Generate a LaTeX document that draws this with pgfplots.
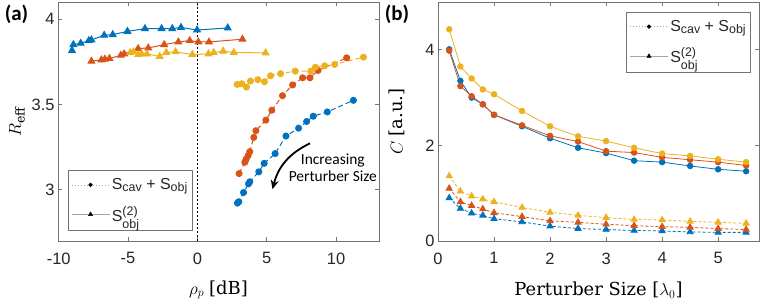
\documentclass[border=0pt]{standalone}
\usepackage{pgfplots}
\pgfplotsset{compat=1.18}
\usetikzlibrary{arrows.meta}
\usepackage{amsmath}
\usepackage{fontspec}
\setmainfont{Liberation Sans}
\newfontfamily\carl{Carlito}
\newfontfamily\dser{DejaVu Serif}
\definecolor{mblue}{rgb}{0,0.447,0.741}
\definecolor{morange}{rgb}{0.85,0.325,0.098}
\definecolor{myellow}{rgb}{0.929,0.694,0.125}
\definecolor{axgray}{gray}{0.45}
\definecolor{txtgray}{gray}{0.15}
\newcommand\subt[2]{\raisebox{#1}{\fontsize{12.5}{13}\selectfont #2}}
\newcommand\legA{S\subt{-1.7bp}{cav} + S\subt{-1.7bp}{obj}}
\newcommand\legB{S\rlap{\subt{6bp}{(2)}}\subt{-7bp}{obj}}
\pgfplotsset{
  common/.style={
    scale only axis, width=321bp, height=239bp, anchor=south west,
    axis line style={axgray, line width=0.8bp},
    tick style={axgray, line width=0.8bp},
    major tick length=4bp, tick align=inside,
    ticklabel style={font=\fontsize{16.5}{18}\selectfont, text=txtgray},
    /pgf/number format/assume math mode=true,
    xticklabel style={yshift=-8bp},
    label style={font=\fontsize{18}{22}\selectfont, text=black},
    xlabel style={at={(axis description cs:0.5,-0.205)}, anchor=center},
    ylabel style={at={(axis description cs:-0.128,0.5)}, anchor=center},
    legend cell align=left,
    legend image code/.code={\draw[mark repeat=2,mark phase=2,#1] plot coordinates {(0bp,0bp) (19bp,0bp) (38bp,0bp)};},
    legend style={draw=axgray, line width=0.6bp, fill=white, font=\fontsize{16}{18}\selectfont, text=txtgray, row sep=11bp, inner xsep=3bp, inner ysep=6bp},
  },
  circA/.style={#1, line width=1bp, dash pattern=on 5bp off 3bp, mark=*, mark size=3bp, mark options={solid, fill=#1, draw=#1}},
  triA/.style={#1, line width=1bp, mark=triangle*, mark size=3.8bp, mark options={solid, fill=#1, draw=#1}},
  circB/.style={#1, line width=0.8bp, mark=*, mark size=2.8bp, mark options={solid, fill=#1, draw=#1}},
  triB/.style={#1, line width=0.8bp, dash pattern=on 3bp off 2bp, mark=triangle*, mark size=3.6bp, mark options={solid, fill=#1, draw=#1}},
}
\begin{document}
\begin{tikzpicture}[x=1bp,y=1bp]
\useasboundingbox (0,0) rectangle (762,304);
\begin{axis}[common, at={(58bp,63bp)},
  xmin=-10.05, xmax=13.1, ymin=2.7, ymax=4.1,
  xtick={-10,-5,0,5,10}, ytick={3,3.5,4},
  xlabel={$\rho_p$ {\dser [dB]}}, ylabel={$R_{\text{\dser eff}}$},
  legend style={at={(rel axis cs:0.031,0.042)}, anchor=south west}]
\addplot[black, line width=0.5bp, dash pattern=on 2bp off 2bp, forget plot] coordinates {(0,2.7) (0,4.1)};
% triangles
\addplot[triA=mblue, forget plot] coordinates {(-9.04,3.816) (-8.94,3.850) (-8.41,3.858) (-7.83,3.874) (-7.64,3.878) (-6.72,3.905) (-6.10,3.909) (-5.04,3.928) (-3.78,3.944) (-2.58,3.944) (-1.81,3.944) (-1.18,3.951) (-0.02,3.936) (2.19,3.948)};
\addplot[triA=morange, forget plot] coordinates {(-7.64,3.753) (-6.92,3.761) (-6.67,3.765) (-6.34,3.769) (-5.52,3.788) (-5.28,3.796) (-4.27,3.827) (-3.54,3.831) (-2.39,3.850) (-1.37,3.866) (-0.55,3.874) (0.07,3.866) (0.84,3.866) (3.25,3.882)};
\addplot[triA=myellow, forget plot] coordinates {(-4.84,3.804) (-4.60,3.808) (-4.27,3.792) (-4.02,3.796) (-3.64,3.796) (-2.72,3.781) (-2.24,3.804) (-1.57,3.808) (-0.36,3.792) (0.80,3.796) (1.18,3.804) (1.86,3.812) (2.63,3.804) (4.92,3.802)};
% circles
\addplot[circA=mblue, forget plot] coordinates {(2.89,2.922) (2.99,2.930) (3.33,2.984) (3.69,3.035) (3.78,3.047) (4.43,3.105) (4.82,3.155) (5.61,3.212) (6.39,3.315) (7.30,3.361) (7.88,3.400) (8.36,3.431) (9.37,3.456) (11.25,3.524)};
\addplot[circA=morange, forget plot] coordinates {(3.01,3.095) (3.42,3.161) (3.52,3.179) (3.66,3.200) (3.78,3.223) (4.07,3.307) (4.22,3.346) (4.94,3.408) (5.37,3.466) (6.14,3.551) (6.87,3.614) (7.59,3.656) (8.12,3.656) (8.70,3.699) (10.77,3.773)};
\addplot[circA=myellow, forget plot] coordinates {(2.87,3.617) (3.20,3.621) (3.54,3.602) (3.83,3.637) (4.36,3.645) (4.84,3.633) (5.28,3.668) (6.00,3.680) (7.06,3.695) (8.18,3.695) (8.51,3.718) (9.18,3.726) (9.90,3.734) (11.98,3.777)};
\addlegendimage{gray!70, line width=0.6bp, dash pattern=on 1.5bp off 1.5bp, mark=*, mark size=1.8bp, mark options={solid, black}}
\addlegendentry{\legA}
\addlegendimage{gray!70, line width=0.6bp, mark=triangle*, mark size=2.3bp, mark options={solid, black}}
\addlegendentry{\legB}
\node[font=\carl\fontsize{15.5}{17}\selectfont, align=center, text=black] at (axis cs:9.77,3.131) {Increasing\\Perturber Size};
\draw[-{Stealth[length=9bp,width=8bp]}, line width=1.8bp, bend right=25] (axis cs:8.12,3.272) to (axis cs:5.42,3.004);
\end{axis}
\begin{axis}[common, at={(438bp,63bp)},
  xmin=0, xmax=5.73, ymin=0, ymax=5,
  xtick={0,1,2,3,4,5}, ytick={0,2,4},
  xlabel={{\dser Perturber Size [}$\lambda_0${\dser ]}}, ylabel={$C$ {\dser [a.u.]}},
  legend style={at={(rel axis cs:0.975,0.958)}, anchor=north east}]
\addplot[triB=mblue, forget plot] coordinates {(0.2,0.90) (0.4,0.68) (0.6,0.58) (0.8,0.535) (1,0.465) (1.5,0.40) (2,0.31) (2.5,0.26) (3,0.24) (3.5,0.22) (4,0.21) (4.5,0.19) (5,0.18) (5.5,0.18)};
\addplot[triB=morange, forget plot] coordinates {(0.2,1.10) (0.4,0.82) (0.6,0.74) (0.8,0.67) (1,0.59) (1.5,0.51) (2,0.42) (2.5,0.39) (3,0.35) (3.5,0.32) (4,0.30) (4.5,0.285) (5,0.26) (5.5,0.24)};
\addplot[triB=myellow, forget plot] coordinates {(0.2,1.36) (0.4,1.04) (0.6,0.94) (0.8,0.875) (1,0.82) (1.5,0.70) (2,0.60) (2.5,0.535) (3,0.49) (3.5,0.45) (4,0.44) (4.5,0.41) (5,0.39) (5.5,0.37)};
\addplot[circB=mblue, forget plot] coordinates {(0.2,4.01) (0.4,3.35) (0.6,3.00) (0.8,2.86) (1,2.64) (1.5,2.40) (2,2.15) (2.5,1.95) (3,1.84) (3.5,1.68) (4,1.65) (4.5,1.57) (5,1.50) (5.5,1.46)};
\addplot[circB=morange, forget plot] coordinates {(0.2,3.98) (0.4,3.24) (0.6,3.03) (0.8,2.86) (1,2.64) (1.5,2.42) (2,2.20) (2.5,2.08) (3,1.88) (3.5,1.85) (4,1.75) (4.5,1.70) (5,1.65) (5.5,1.58)};
\addplot[circB=myellow, forget plot] coordinates {(0.2,4.43) (0.4,3.65) (0.6,3.40) (0.8,3.17) (1,3.07) (1.5,2.72) (2,2.40) (2.5,2.19) (3,2.09) (3.5,1.95) (4,1.83) (4.5,1.78) (5,1.71) (5.5,1.65)};
\addlegendimage{gray!70, line width=0.6bp, dash pattern=on 1.5bp off 1.5bp, mark=*, mark size=1.8bp, mark options={solid, black}}
\addlegendentry{\legA}
\addlegendimage{gray!70, line width=0.6bp, mark=triangle*, mark size=2.3bp, mark options={solid, black}}
\addlegendentry{\legB}
\end{axis}
\node[font=\carl\bfseries\fontsize{21}{24}\selectfont] at (16.5,290) {(a)};
\node[font=\carl\bfseries\fontsize{21}{24}\selectfont] at (397,290) {(b)};
\end{tikzpicture}
\end{document}
